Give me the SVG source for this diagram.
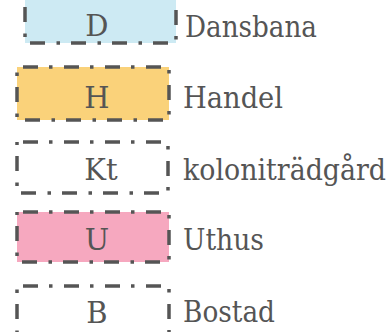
<svg xmlns="http://www.w3.org/2000/svg" width="391" height="332" viewBox="0 0 391 332">
<style>
.box{stroke:#555;stroke-width:3.5;stroke-dasharray:15 11 3.5 11.5;stroke-dashoffset:35}
.t{font-family:"DejaVu Serif","Liberation Serif",serif;font-size:29px;fill:#555}
.c{text-anchor:middle}
</style>
<rect width="391" height="332" fill="#fff"/>
<g id="D">
<rect class="box" x="25" y="-9" width="151" height="52" fill="#cdeaf3"/>
<text class="t c" x="97" y="36">D</text>
<text class="t" x="185" y="37" textLength="132" lengthAdjust="spacingAndGlyphs">Dansbana</text>
</g>
<g id="H">
<rect class="box" x="17" y="67" width="152" height="53" fill="#fad27a"/>
<text class="t c" x="97" y="108">H</text>
<text class="t" x="183" y="108" fill="#5a5346" textLength="100" lengthAdjust="spacingAndGlyphs">Handel</text>
</g>
<g id="Kt">
<rect class="box" x="17" y="142" width="151" height="51" fill="none"/>
<text class="t c" x="101" y="180">Kt</text>
<text class="t" x="183" y="180" font-size="27" textLength="203" lengthAdjust="spacingAndGlyphs">koloniträdgård</text>
</g>
<g id="U">
<rect class="box" x="17" y="212" width="152" height="50" fill="#f6a8bf"/>
<text class="t c" x="97" y="250">U</text>
<text class="t" x="183" y="250" textLength="81" lengthAdjust="spacingAndGlyphs">Uthus</text>
</g>
<g id="B">
<rect class="box" x="17" y="286" width="152" height="52" fill="none"/>
<text class="t c" x="97" y="323">B</text>
<text class="t" x="183" y="322" textLength="92" lengthAdjust="spacingAndGlyphs">Bostad</text>
</g>
<g id="connectors"/>
</svg>
